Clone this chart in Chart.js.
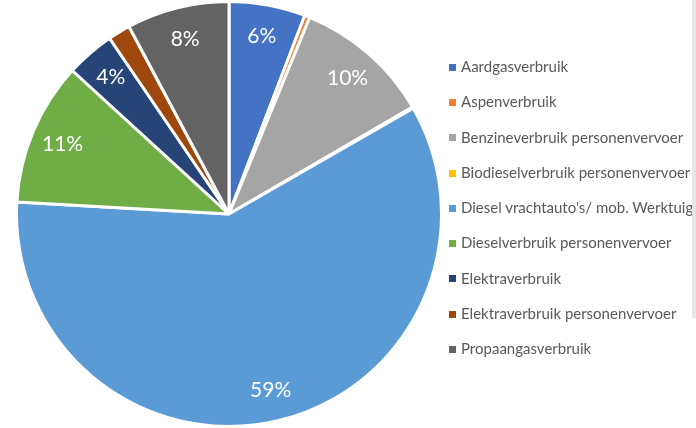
<!DOCTYPE html>
<html>
<head>
<meta charset="utf-8">
<script src="https://cdn.jsdelivr.net/npm/chart.js@4"></script>
<style>
  html, body { margin: 0; padding: 0; background: #fff; }
  #wrap { position: relative; width: 696px; height: 428px; overflow: hidden; }
  #legend { position: absolute; left: 449px; top: 49px; font-family: Lato, sans-serif; font-size: 15px; color: #595959; white-space: nowrap; }
  #legend div { height: 35.3px; line-height: 35.3px; }
  #legend span.box { display: inline-block; width: 7px; height: 7px; margin-right: 5px; vertical-align: middle; position: relative; top: -1px; }
  #edge { position: absolute; left: 692px; top: 0; width: 4px; height: 318px; background: #e6e6e6; }
</style>
</head>
<body>
<div id="wrap">
  <canvas id="chart" width="696" height="428"></canvas>
  <div id="legend"></div>
  <div id="edge"></div>
</div>
<script>
const categories = [
  'Aardgasverbruik',
  'Aspenverbruik',
  'Benzineverbruik personenvervoer',
  'Biodieselverbruik personenvervoer',
  "Diesel vrachtauto's/ mob. Werktuig",
  'Dieselverbruik personenvervoer',
  'Elektraverbruik',
  'Elektraverbruik personenvervoer',
  'Propaangasverbruik'
];
const shares = [5.8, 0.4, 10.4, 0.1, 59.2, 10.9, 3.7, 1.7, 7.8];
const colors = ['#4472C4', '#ED7D31', '#A5A5A5', '#FFC000', '#5B9BD5', '#70AD47', '#264478', '#9E480E', '#636363'];

// percent labels inside the bigger slices
const pctLabels = {
  id: 'pctLabels',
  afterDatasetsDraw(chart) {
    const ctx = chart.ctx;
    const meta = chart.getDatasetMeta(0);
    const data = chart.data.datasets[0].data;
    const total = data.reduce((a, b) => a + b, 0);
    ctx.save();
    ctx.font = '21px Lato, sans-serif';
    ctx.fillStyle = '#ffffff';
    ctx.textAlign = 'center';
    ctx.textBaseline = 'middle';
    meta.data.forEach((arc, i) => {
      const pct = data[i] / total * 100;
      if (pct < 3) return;
      const p = arc.getProps(['x', 'y', 'startAngle', 'endAngle', 'outerRadius'], true);
      const mid = (p.startAngle + p.endAngle) / 2;
      const r = p.outerRadius * 0.85;
      ctx.fillText(Math.round(pct) + '%', p.x + Math.cos(mid) * r, p.y + Math.sin(mid) * r);
    });
    ctx.restore();
  }
};

new Chart(document.getElementById('chart').getContext('2d'), {
  type: 'pie',
  data: {
    labels: categories,
    datasets: [{
      data: shares,
      backgroundColor: colors,
      borderColor: '#ffffff',
      borderWidth: 3
    }]
  },
  options: {
    responsive: false,
    animation: false,
    layout: { padding: { left: 15, right: 253, top: 0, bottom: 0 } },
    plugins: {
      legend: { display: false },
      tooltip: { enabled: false }
    }
  },
  plugins: [pctLabels]
});

// legend built from the same arrays
const legend = document.getElementById('legend');
categories.forEach((name, i) => {
  const row = document.createElement('div');
  row.innerHTML = '<span class="box" style="background:' + colors[i] + '"></span>' + name;
  legend.appendChild(row);
});
</script>
</body>
</html>
